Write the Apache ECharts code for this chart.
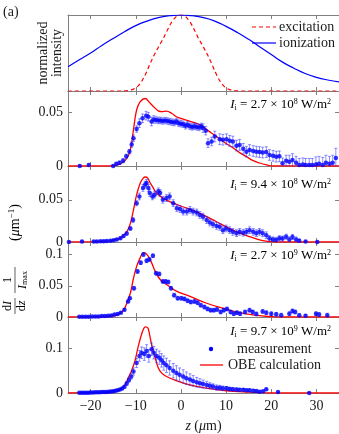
<!DOCTYPE html>
<html>
<head>
<meta charset="utf-8">
<script src="https://cdn.jsdelivr.net/npm/echarts@6/dist/echarts.min.js"></script>
<style>
html, body { margin: 0; padding: 0; background: #fff; }
#chart { width: 339px; height: 434px; }
</style>
</head>
<body>
<div id="chart"></div>
<script>
// laser profiles, top panel: [z (um), normalized intensity]
var excitation = [[-25,0],[-13,0],[-12.5,0.001],[-12,0.003],[-11.5,0.007],[-11,0.014],[-10.5,0.025],[-10,0.04],[-9.5,0.065],[-9,0.1],[-8.5,0.145],[-8,0.2],[-7.5,0.265],[-7,0.335],[-6.5,0.4],[-6,0.465],[-5.5,0.52],[-5,0.575],[-4.5,0.63],[-4,0.68],[-3.5,0.74],[-3,0.8],[-2.5,0.86],[-2,0.91],[-1.5,0.95],[-1,0.98],[-0.5,0.995],[0,1],[0.5,0.995],[1,0.98],[1.5,0.95],[2,0.91],[2.5,0.86],[3,0.8],[3.5,0.74],[4,0.68],[4.5,0.63],[5,0.575],[5.5,0.52],[6,0.465],[6.5,0.4],[7,0.335],[7.5,0.265],[8,0.2],[8.5,0.145],[9,0.1],[9.5,0.065],[10,0.04],[10.5,0.025],[11,0.014],[11.5,0.007],[12,0.003],[12.5,0.001],[13,0],[35,0]];
var ionization = [[-25,0.32],[-22.5,0.41],[-20,0.5],[-17.5,0.6],[-15,0.69],[-12.5,0.78],[-10,0.86],[-7.5,0.92],[-5,0.965],[-2.5,0.99],[0,1],[2.5,0.99],[5,0.965],[7.5,0.92],[10,0.85],[12.5,0.77],[15,0.68],[17.5,0.58],[20,0.48],[22.5,0.38],[25,0.3],[27.5,0.23],[30,0.18],[32.5,0.145],[35,0.12]];

// OBE calculation curves: [z, dI/dz / Imax]
var obe1 = [[-25,0],[-16,0],[-14,0.001],[-13,0.003],[-12,0.007],[-11.2,0.015],[-10.5,0.034],[-9.8,0.0525],[-9,0.06],[-7.9,0.063],[-7,0.0595],[-6.1,0.0556],[-5,0.0515],[-4.2,0.0508],[-3.2,0.0512],[-2,0.049],[-1,0.046],[1,0.043],[4.2,0.0385],[6,0.033],[7.9,0.0275],[10,0.021],[11.5,0.017],[13,0.0125],[14.5,0.0087],[16,0.005],[17.4,0.0028],[19,0.001],[20.3,0],[35,0]];
var obe2 = [[-25,0],[-16,0.001],[-14.5,0.003],[-13.4,0.005],[-12,0.012],[-11.2,0.022],[-10.5,0.038],[-9.8,0.056],[-9,0.07],[-8.3,0.076],[-7.9,0.077],[-7.4,0.076],[-6.8,0.07],[-6,0.063],[-5.4,0.058],[-4,0.052],[-1.7,0.046],[1.3,0.04],[4.2,0.034],[7.9,0.024],[11.5,0.014],[15.2,0.0063],[18.1,0.0016],[21,0],[35,0]];
var obe3 = [[-25,0],[-17,0.0005],[-15.7,0.001],[-14.2,0.003],[-12.7,0.011],[-12,0.022],[-11.2,0.038],[-10.5,0.062],[-9.8,0.081],[-9,0.095],[-8.3,0.103],[-7.8,0.102],[-7.2,0.097],[-6.5,0.087],[-5.7,0.073],[-4.6,0.06],[-3.2,0.052],[-0.9,0.041],[2,0.033],[5.7,0.022],[9.3,0.014],[13,0.007],[16.7,0.0025],[20,0.0005],[22,0],[35,0]];
var obe4 = [[-25,0],[-17,0.001],[-15,0.002],[-13.6,0.007],[-12.4,0.018],[-11.7,0.033],[-11,0.048],[-10.2,0.071],[-9.5,0.102],[-8.7,0.132],[-8.2,0.145],[-7.9,0.148],[-7.5,0.147],[-7.2,0.143],[-6.5,0.109],[-5.7,0.079],[-5,0.056],[-4.3,0.045],[-3.2,0.037],[-0.9,0.027],[2,0.018],[5.7,0.011],[10.1,0.005],[15.2,0.002],[20,0],[35,0]];

// measurements: [z, value, error]
var meas1 = [[-22.4,0,0.001],[-20.4,0.001,0.001],[-15,0,0.001],[-14.3,0.002,0.001],[-13.6,0.003,0.0015],[-12.8,0.005,0.002],[-12.1,0.009,0.002],[-11.4,0.0135,0.002],[-10.9,0.02,0.0025],[-10.5,0.026,0.003],[-9.8,0.0345,0.003],[-9.2,0.04,0.004],[-8.5,0.0445,0.004],[-7.7,0.047,0.004],[-7.2,0.046,0.004],[-6.5,0.0415,0.004],[-6,0.0435,0.0035],[-5.5,0.043,0.003],[-5,0.0425,0.003],[-4.5,0.0425,0.003],[-4,0.042,0.003],[-3.5,0.0425,0.003],[-3,0.042,0.003],[-2.5,0.0415,0.003],[-2,0.041,0.003],[-1.5,0.0405,0.003],[-1,0.0415,0.003],[-0.5,0.04,0.003],[0,0.0395,0.003],[0.5,0.039,0.003],[1,0.0375,0.003],[1.5,0.0385,0.003],[2,0.037,0.003],[2.5,0.0365,0.003],[3,0.037,0.003],[3.5,0.0365,0.003],[4,0.036,0.003],[4.5,0.037,0.003],[4.9,0.0354,0.004],[5.5,0.033,0.004],[6,0.0213,0.004],[6.8,0.0228,0.004],[7.5,0.0275,0.005],[8.6,0.025,0.005],[9.3,0.0245,0.005],[10.1,0.025,0.005],[10.8,0.0235,0.005],[11.5,0.0228,0.005],[12.3,0.019,0.005],[13,0.0197,0.005],[13.8,0.016,0.005],[14.5,0.0134,0.005],[15.2,0.015,0.005],[16,0.014,0.005],[16.7,0.0134,0.005],[17.4,0.013,0.005],[18.1,0.0125,0.005],[18.9,0.013,0.005],[19.6,0.0103,0.005],[20.4,0.0095,0.005],[21.1,0.0087,0.005],[21.8,0.009,0.005],[22.5,0.0025,0.005],[23.3,0.005,0.005],[24,0.004,0.006],[24.7,0.0055,0.006],[25.5,0.003,0.006],[26.2,0.001,0.006],[27,0.0015,0.006],[27.6,0.001,0.006],[28.4,0.001,0.006],[29.1,0.001,0.006],[29.9,0.0015,0.007],[30.6,0.002,0.007],[31.4,0.001,0.007],[32.1,0.003,0.007],[32.9,0.002,0.007],[33.6,0.003,0.007],[34.3,0.0075,0.009]];
var meas2 = [[-24.8,0,0.001],[-21.9,0.0005,0.001],[-19.3,0.0005,0.001],[-18.6,0.0007,0.001],[-17.8,0.0008,0.001],[-17.1,0.001,0.001],[-16.4,0.0012,0.001],[-15.6,0.0015,0.001],[-14.9,0.002,0.001],[-14.2,0.003,0.001],[-13.4,0.0045,0.0015],[-12.7,0.007,0.0015],[-12,0.01,0.002],[-11.2,0.016,0.002],[-10.6,0.026,0.003],[-9.8,0.046,0.003],[-9.2,0.054,0.004],[-8.4,0.064,0.004],[-7.9,0.068,0.004],[-7.6,0.07,0.004],[-7.2,0.064,0.004],[-6.9,0.058,0.004],[-6.3,0.054,0.004],[-5.8,0.056,0.004],[-5,0.06,0.004],[-4.6,0.058,0.004],[-4,0.05,0.004],[-3.2,0.052,0.004],[-2.5,0.054,0.004],[-1.7,0.046,0.004],[-0.9,0.04,0.004],[-0.2,0.039,0.004],[0.5,0.036,0.004],[1.3,0.036,0.004],[2,0.038,0.004],[2.7,0.036,0.004],[3.5,0.035,0.004],[4.2,0.032,0.004],[4.9,0.03,0.004],[5.7,0.026,0.004],[6.4,0.023,0.004],[7.1,0.021,0.004],[7.9,0.019,0.004],[8.6,0.018,0.004],[9.3,0.014,0.004],[10,0.016,0.004],[10.8,0.014,0.004],[11.5,0.012,0.004],[12.3,0.0105,0.004],[13,0.012,0.004],[13.8,0.011,0.004],[14.5,0.012,0.004],[15.2,0.014,0.004],[16,0.012,0.004],[16.7,0.0105,0.004],[17.4,0.012,0.004],[18.1,0.0105,0.004],[18.9,0.008,0.004],[19.6,0.0045,0.003],[20.4,0.003,0.003],[21.1,0.0025,0.003],[21.8,0.0045,0.003],[22.5,0.004,0.003],[23.3,0.0063,0.003],[24,0.003,0.003],[24.7,0.006,0.003],[25.5,0.003,0.003],[26.2,0.0016,0.002],[27.6,0.0005,0.001],[30.2,0,0.001]];
var meas3 = [[-22.5,0.0005,0.0008],[-21.8,0.0005,0.0008],[-21.1,0.0005,0.0008],[-20.4,0.0006,0.0008],[-19.6,0.0007,0.0008],[-18.9,0.0008,0.0008],[-18.2,0.001,0.0008],[-17.5,0.0015,0.001],[-16.8,0.0018,0.001],[-16.1,0.002,0.001],[-15.4,0.0025,0.001],[-14.7,0.004,0.001],[-14,0.005,0.0015],[-13.3,0.007,0.0015],[-12.5,0.0115,0.002],[-11.7,0.0247,0.002],[-11.3,0.03,0.002],[-10.4,0.046,0.003],[-9.6,0.073,0.003],[-8.9,0.087,0.003],[-8.3,0.1,0.003],[-7.6,0.09,0.003],[-7,0.092,0.003],[-6.2,0.098,0.003],[-5.5,0.07,0.003],[-4.8,0.069,0.003],[-4,0.057,0.003],[-3.4,0.057,0.003],[-2.8,0.056,0.003],[-2.2,0.046,0.003],[-1.5,0.035,0.003],[-0.7,0.03,0.003],[0.1,0.03,0.003],[0.8,0.029,0.003],[1.5,0.026,0.003],[2.2,0.024,0.003],[3,0.025,0.003],[3.7,0.023,0.003],[4.4,0.019,0.003],[5.2,0.016,0.003],[5.9,0.013,0.003],[6.6,0.011,0.003],[7.3,0.011,0.003],[8,0.012,0.003],[8.8,0.008,0.003],[9.5,0.011,0.003],[10.2,0.013,0.003],[11,0.008,0.003],[11.7,0.0054,0.003],[12.4,0.007,0.003],[13.1,0.0054,0.003],[14.2,0.008,0.003],[15.2,0.011,0.003],[15.9,0.008,0.003],[16.7,0.005,0.003],[18.1,0.009,0.003],[18.9,0.007,0.003],[20,0.0054,0.003],[21.1,0.0043,0.003],[22.2,0.003,0.003],[24,0.0054,0.003],[24.7,0.0097,0.003],[25.3,0.008,0.003],[26.2,0.003,0.002],[27.6,0.002,0.002],[29.9,0.0054,0.003],[30.6,0.004,0.003],[32.4,0.003,0.003]];
var meas4 = [[-22.5,0.0005,0.001],[-22,0.0005,0.001],[-21.5,0.0006,0.001],[-21,0.0007,0.001],[-20.5,0.0008,0.001],[-20,0.001,0.001],[-19.5,0.0012,0.001],[-19,0.0014,0.001],[-18.5,0.0016,0.001],[-18,0.0018,0.001],[-17.5,0.002,0.001],[-17,0.0022,0.001],[-16.5,0.0025,0.001],[-16,0.003,0.001],[-15.5,0.0035,0.001],[-15,0.004,0.0015],[-14.5,0.005,0.0015],[-14,0.006,0.0015],[-13.5,0.008,0.002],[-13,0.01,0.002],[-12.5,0.014,0.003],[-12,0.021,0.004],[-11.5,0.029,0.005],[-11,0.037,0.006],[-10.5,0.048,0.008],[-9.8,0.067,0.01],[-9.2,0.083,0.012],[-8.7,0.09,0.013],[-8.1,0.087,0.014],[-7.6,0.094,0.014],[-7.1,0.083,0.014],[-6.5,0.098,0.014],[-6,0.09,0.014],[-5.4,0.083,0.015],[-4.8,0.079,0.015],[-4.3,0.073,0.015],[-3.8,0.067,0.016],[-3.2,0.062,0.016],[-2.5,0.056,0.016],[-1.7,0.05,0.016],[-1,0.045,0.016],[-0.3,0.041,0.015],[0.5,0.037,0.015],[1.2,0.033,0.014],[2,0.03,0.013],[2.7,0.027,0.012],[3.5,0.024,0.011],[4.2,0.022,0.01],[4.9,0.02,0.009],[5.7,0.018,0.008],[6.4,0.016,0.007],[7.1,0.0145,0.006],[7.9,0.012,0.006],[8.6,0.012,0.005],[9.3,0.0105,0.005],[10.1,0.0105,0.004],[10.8,0.009,0.004],[11.5,0.0083,0.004],[12.3,0.008,0.003],[13,0.007,0.003],[13.8,0.007,0.003],[14.5,0.006,0.003],[15.2,0.006,0.003],[16,0.005,0.003],[16.7,0.0045,0.002],[17.4,0.003,0.002],[18.2,0.004,0.002],[18.9,0.0083,0.002],[21.5,0.002,0.001],[28.4,0,0.001]];

var zTicks = [-20, -10, 0, 10, 20, 30];
var yTicks = [[], [0, 0.05], [0, 0.05], [0, 0.05, 0.1], [0, 0.1]];
var yMax = [1, 0.07, 0.09, 0.12, 0.17];
var intensityMantissa = ['2.7', '9.4', '2.7', '9.7'];
var intensityExponent = ['8', '8', '9', '9'];

var F = 'Liberation Serif';
var AX = '#808080';
var TXT = '#1a1a1a';
var RED = '#ff0000';
var BLUE = '#0000ff';

var chart = echarts.init(document.getElementById('chart'));

var gridTops = [15, 91, 166, 242, 317];
var gridHeights = [76, 75, 76, 75, 76];
var annotY = [105, 185, 256, 332];

var rich = {
  it: { fontFamily: F, fontSize: 13, fontStyle: 'italic', color: TXT },
  n: { fontFamily: F, fontSize: 13, color: TXT },
  sub: { fontFamily: F, fontSize: 8, color: TXT, verticalAlign: 'bottom', padding: [6, 0, 0, 0] },
  sup: { fontFamily: F, fontSize: 8, color: TXT, verticalAlign: 'top', padding: [0, 0, 6, 0] }
};

function errorBar(params, api) {
  var x = api.value(0), y = api.value(1), e = api.value(2);
  var lo = api.coord([x, y - e]);
  var hi = api.coord([x, y + e]);
  var st = { stroke: 'rgba(40,40,255,0.65)', lineWidth: 0.8 };
  var c = 1.5;
  return {
    type: 'group',
    children: [
      { type: 'line', shape: { x1: lo[0], y1: lo[1], x2: hi[0], y2: hi[1] }, style: st },
      { type: 'line', shape: { x1: lo[0] - c, y1: lo[1], x2: lo[0] + c, y2: lo[1] }, style: st },
      { type: 'line', shape: { x1: hi[0] - c, y1: hi[1], x2: hi[0] + c, y2: hi[1] }, style: st }
    ]
  };
}

var grids = [], xAxes = [], yAxes = [];
for (var i = 0; i < 5; i++) {
  grids.push({ left: 68, right: 0, top: gridTops[i], height: gridHeights[i] });
  xAxes.push({
    type: 'value', gridIndex: i, position: 'bottom', min: -25, max: 35,
    axisLine: { show: true, onZero: false, lineStyle: { color: AX, width: 1 } },
    axisTick: { show: true, inside: true, length: 4, customValues: zTicks, lineStyle: { color: AX } },
    axisLabel: {
      show: i === 4, customValues: zTicks, margin: 6,
      fontFamily: F, fontSize: 14, color: TXT,
      formatter: function(v) { return String(v).replace('-', '\u2212'); }
    },
    splitLine: { show: false },
    name: i === 4 ? '{it|z} {n|(}{it|\u03bc}{n|m)}' : '',
    nameLocation: 'middle', nameGap: 26,
    nameTextStyle: { fontFamily: F, fontSize: 14, color: TXT, rich: {
      it: { fontFamily: F, fontSize: 14, fontStyle: 'italic', color: TXT },
      n: { fontFamily: F, fontSize: 14, color: TXT } } }
  });
  xAxes.push({
    type: 'value', gridIndex: i, position: 'top', min: -25, max: 35,
    axisLine: { show: true, onZero: false, lineStyle: { color: AX, width: 1 } },
    axisTick: { show: true, inside: true, length: 4, customValues: zTicks, lineStyle: { color: AX } },
    axisLabel: { show: false },
    splitLine: { show: false }
  });
  yAxes.push({
    type: 'value', gridIndex: i, position: 'left', min: 0, max: yMax[i],
    axisLine: { show: true, onZero: false, lineStyle: { color: AX, width: 1 } },
    axisTick: { show: yTicks[i].length > 0, inside: true, length: 4, customValues: yTicks[i], lineStyle: { color: AX } },
    axisLabel: { show: yTicks[i].length > 0, customValues: yTicks[i], margin: 5, fontFamily: F, fontSize: 14, color: TXT },
    splitLine: { show: false }
  });
  yAxes.push({
    type: 'value', gridIndex: i, position: 'right', min: 0, max: yMax[i],
    axisLine: { show: true, onZero: false, lineStyle: { color: AX, width: 1 } },
    axisTick: { show: yTicks[i].length > 0, inside: true, length: 4, customValues: yTicks[i], lineStyle: { color: AX } },
    axisLabel: { show: false },
    splitLine: { show: false }
  });
}

var series = [
  { type: 'line', xAxisIndex: 0, yAxisIndex: 0, data: excitation, smooth: 0.3, showSymbol: false, silent: true,
    lineStyle: { color: RED, width: 1.2, type: [4, 3] } },
  { type: 'line', xAxisIndex: 0, yAxisIndex: 0, data: ionization, smooth: 0.5, showSymbol: false, silent: true,
    lineStyle: { color: BLUE, width: 1.2 } }
];
var obeSets = [obe1, obe2, obe3, obe4];
var measSets = [meas1, meas2, meas3, meas4];
for (var k = 0; k < 4; k++) {
  var ax = 2 * (k + 1);
  series.push({ type: 'line', xAxisIndex: ax, yAxisIndex: ax, data: obeSets[k], smooth: 0.4, showSymbol: false, silent: true,
    lineStyle: { color: RED, width: 1.3 }, z: 2 });
  series.push({ type: 'custom', xAxisIndex: ax, yAxisIndex: ax, data: measSets[k], renderItem: errorBar,
    encode: { x: 0, y: 1 }, clip: true, silent: true, z: 3 });
  series.push({ type: 'scatter', xAxisIndex: ax, yAxisIndex: ax,
    data: measSets[k].map(function(r) { return [r[0], r[1]]; }),
    symbol: 'circle', symbolSize: 4.5, itemStyle: { color: BLUE }, silent: true, z: 4 });
}

var fr = { n: { fontFamily: F, fontSize: 12, color: TXT }, it: { fontFamily: F, fontSize: 12, fontStyle: 'italic', color: TXT },
  sub: { fontFamily: F, fontSize: 8, color: TXT, verticalAlign: 'bottom', padding: [5, 0, 0, 0] } };

var graphics = [
  { type: 'text', x: 3, y: 12, style: { text: '(a)', fontFamily: F, fontSize: 14, fill: TXT, verticalAlign: 'middle' } },
  { type: 'text', x: 43, y: 53, rotation: Math.PI / 2, style: { text: 'normalized', fontFamily: F, fontSize: 14, fill: TXT, align: 'center', verticalAlign: 'middle' } },
  { type: 'text', x: 57, y: 53, rotation: Math.PI / 2, style: { text: 'intensity', fontFamily: F, fontSize: 14, fill: TXT, align: 'center', verticalAlign: 'middle' } },
  // top legend
  { type: 'line', shape: { x1: 252, y1: 27, x2: 276, y2: 27 }, style: { stroke: RED, lineWidth: 1.2, lineDash: [4, 3] } },
  { type: 'text', x: 279, y: 27, style: { text: 'excitation', fontFamily: F, fontSize: 14, fill: TXT, verticalAlign: 'middle' } },
  { type: 'line', shape: { x1: 252, y1: 43, x2: 276, y2: 43 }, style: { stroke: BLUE, lineWidth: 1.2 } },
  { type: 'text', x: 279, y: 43, style: { text: 'ionization', fontFamily: F, fontSize: 14, fill: TXT, verticalAlign: 'middle' } },
  // bottom legend
  { type: 'circle', shape: { cx: 211, cy: 349, r: 2.2 }, style: { fill: BLUE } },
  { type: 'text', x: 237, y: 349, style: { text: 'measurement', fontFamily: F, fontSize: 14, fill: TXT, verticalAlign: 'middle' } },
  { type: 'line', shape: { x1: 200, y1: 365, x2: 223, y2: 365 }, style: { stroke: RED, lineWidth: 1.3 } },
  { type: 'text', x: 228, y: 365, style: { text: 'OBE calculation', fontFamily: F, fontSize: 14, fill: TXT, verticalAlign: 'middle' } },
  // y-axis title for the lower panels
  { type: 'group', x: 15, y: 314, rotation: Math.PI / 2, children: [
    { type: 'text', x: 8, y: -1, style: { text: '{n|d}{it|I}', rich: fr, align: 'center', verticalAlign: 'bottom' } },
    { type: 'line', shape: { x1: 0, y1: 0, x2: 16, y2: 0 }, style: { stroke: TXT, lineWidth: 0.7 } },
    { type: 'text', x: 8, y: 1, style: { text: '{n|d}{it|z}', rich: fr, align: 'center', verticalAlign: 'top' } },
    { type: 'text', x: 34, y: -1, style: { text: '{n|1}', rich: fr, align: 'center', verticalAlign: 'bottom' } },
    { type: 'line', shape: { x1: 21, y1: 0, x2: 47, y2: 0 }, style: { stroke: TXT, lineWidth: 0.7 } },
    { type: 'text', x: 34, y: 1, style: { text: '{it|I}{sub|max}', rich: fr, align: 'center', verticalAlign: 'top' } },
    { type: 'text', x: 73, y: 0, style: { text: '{n|(}{it|\u03bc}{n|m}{sup|\u22121}{n|)}', rich: {
      n: { fontFamily: F, fontSize: 14, color: TXT },
      it: { fontFamily: F, fontSize: 14, fontStyle: 'italic', color: TXT },
      sup: { fontFamily: F, fontSize: 9, color: TXT, verticalAlign: 'top', padding: [0, 0, 7, 0] } }, verticalAlign: 'middle' } }
  ] }
];
for (var j = 0; j < 4; j++) {
  graphics.push({ type: 'text', x: 331, y: annotY[j], style: {
    text: '{it|I}{sub|i}{n| = ' + intensityMantissa[j] + ' \u00d7 10}{sup|' + intensityExponent[j] + '}{n| W/m}{sup|2}',
    rich: rich, align: 'right', verticalAlign: 'middle' } });
}

chart.setOption({
  animation: false,
  backgroundColor: '#fff',
  textStyle: { fontFamily: F },
  grid: grids,
  xAxis: xAxes,
  yAxis: yAxes,
  series: series,
  graphic: graphics
});
</script>
</body>
</html>
